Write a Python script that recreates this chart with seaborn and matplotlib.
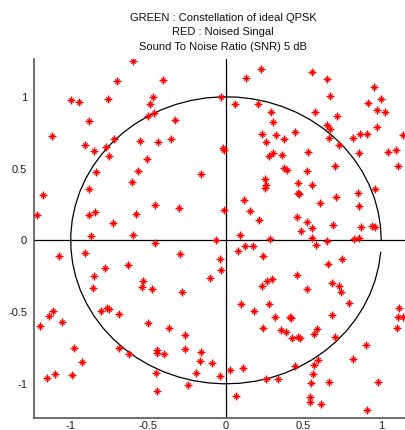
import numpy as np
import pandas as pd
import matplotlib
matplotlib.use("Agg")
import matplotlib.pyplot as plt
import seaborn as sns

title_lines = ["GREEN : Constellation of ideal QPSK",
               "RED : Noised Singal",
               "Sound To Noise Ratio (SNR) 5 dB"]

x_ticks = [-1, -0.5, 0, 0.5, 1]
x_tick_labels = ["-1", "-0.5", "0", "0.5", "1"]
y_ticks = [-1, -0.5, 0, 0.5, 1]
y_tick_labels = ["-1", "-0.5", "0", "0.5", "1"]

noisy_i = [
    -0.597, -0.700, -0.998, -0.947, -0.760, -0.468, -0.489, -0.880, -0.504, -0.462,
    -1.118, -0.721, -0.908, -0.771, -0.552, -0.435, -0.850, -0.755, -0.511, -0.837,
    -0.567, -0.404, -0.032, 0.060, 0.208, 0.290, 0.301, 0.225, 0.131, -0.326,
    -0.356, -0.021, -0.011, 0.234, 0.258, 0.324, 0.377, 0.305, 0.277, 0.363,
    0.373, -0.163, 0.554, 0.650, 0.670, 0.951, 1.000, 0.912, 0.575, 0.717,
    0.970, 1.024, 0.648, 0.670, 0.444, 0.663, 0.730, 0.816, 0.863, 0.906,
    0.972, 1.140, 0.526, 0.858, 1.043, 1.095, 0.395, 0.520, 0.702, 1.106,
    -0.607, -0.884, -1.178, -0.457, -1.219, -0.844, -0.880, -0.580, -0.728, -0.869,
    -0.597, -0.457, -1.073, -0.910, -0.781, -0.631, -0.850, -0.536, -0.543, -0.855,
    -0.475, 0.249, 0.256, 0.249, -0.303, -0.015, 0.114, 0.155, 0.211, -0.066,
    0.088, 0.281, 0.075, 0.122, 0.174, -0.296, -0.037, 0.236, -0.032, -0.105,
    0.266, 0.296, 0.234, -0.283, 0.466, 0.556, 0.466, 0.472, 0.605, 0.708,
    0.848, 0.961, 0.856, 0.459, 0.520, 0.481, 0.556, 0.691, 0.871, 0.938,
    0.959, 0.556, 0.578, 0.652, 0.822, 0.858, 0.747, 0.659, 0.459, 0.684,
    0.728, 0.520, -1.116, -1.140, -1.196, -1.058, -0.805, -0.764, -0.751, -0.689,
    -0.504, -0.977, -0.687, -0.627, -0.925, -0.442, -0.444, -1.151, -1.101, -0.990,
    -0.449, -0.446, 0.095, 0.178, 0.279, 0.314, 0.236, 0.354, -0.367, -0.262,
    -0.399, -0.264, -0.163, -0.169, -0.092, -0.195, -0.037, 0.026, 0.108, 0.260,
    0.335, -0.243, 0.062, 0.739, 0.792, 1.114, 1.109, 1.142, 1.103, 0.412,
    0.422, 0.684, 0.386, 0.423, 0.466, 0.477, 0.567, 0.584, 0.702, 0.902,
    0.820, 0.594, 0.567, 0.444, 0.562, 0.545, 0.663, 0.977, 0.541, 0.539,
    0.612, 0.910,
]
noisy_q = [
    1.252, 1.110, 0.980, 0.966, 0.985, 0.997, 0.948, 0.831, 0.864, 0.885,
    0.729, 0.704, 0.666, 0.652, 0.694, 0.685, 0.622, 0.587, 0.569, 0.473,
    0.486, 1.117, 0.999, 0.948, 0.948, 0.892, 0.827, 1.192, 1.129, 0.838,
    0.704, 0.643, 0.631, 0.741, 0.687, 0.734, 0.706, 0.610, 0.587, 0.594,
    0.504, 0.462, 1.173, 1.126, 1.008, 1.068, 0.985, 0.955, 0.896, 0.868,
    0.908, 0.892, 0.801, 0.778, 0.753, 0.715, 0.666, 0.715, 0.739, 0.743,
    0.790, 0.734, 0.617, 0.610, 0.617, 0.629, 0.490, 0.481, 0.520, 0.520,
    0.408, 0.355, 0.318, 0.246, 0.178, 0.197, 0.174, 0.183, 0.123, 0.028,
    0.035, -0.022, -0.109, -0.089, -0.195, -0.174, -0.251, -0.286, -0.323, -0.332,
    -0.339, 0.425, 0.385, 0.367, 0.227, 0.209, 0.283, 0.202, 0.144, 0.002,
    0.035, 0.011, -0.075, -0.042, -0.042, -0.098, -0.128, -0.109, -0.205, -0.261,
    -0.282, -0.272, -0.318, -0.357, 0.401, 0.385, 0.332, 0.321, 0.258, 0.300,
    0.332, 0.355, 0.239, 0.160, 0.130, 0.063, 0.086, 0.107, 0.093, 0.100,
    0.095, 0.014, -0.031, -0.005, 0.011, 0.018, -0.132, -0.165, -0.240, -0.300,
    -0.316, -0.337, -0.493, -0.528, -0.597, -0.571, -0.493, -0.470, -0.479, -0.512,
    -0.574, -0.748, -0.748, -0.794, -0.848, -0.765, -0.788, -0.958, -0.934, -0.941,
    -0.927, -1.050, -0.446, -0.493, -0.442, -0.532, -0.613, -0.627, -0.609, -0.660,
    -0.794, -0.760, -0.781, -0.839, -0.853, -0.923, -0.944, -0.904, -0.890, -0.965,
    -0.967, -1.008, -1.085, -0.358, -0.439, -0.474, -0.537, -0.537, -0.609, -0.532,
    -0.538, -0.521, -0.641, -0.679, -0.672, -0.683, -0.653, -0.620, -0.672, -0.730,
    -0.829, -0.832, -0.869, -0.876, -0.930, -0.997, -0.990, -0.990, -1.090, -1.129,
    -1.141, -1.183,
]

# unit reference circle, drawn MATLAB-style with 0.1 rad steps (not closed)
theta = np.arange(0, 2 * np.pi, 0.1)
circle_x = np.cos(theta)
circle_y = np.sin(theta)

sns.set_style("white")
plt.rcParams["font.family"] = ["Liberation Sans", "DejaVu Sans"]

W, H = 406, 430
fig = plt.figure(figsize=(W / 100, H / 100), dpi=100)

x_min, x_max = -1.236, 1.20
y_min, y_max = -1.238, 1.263
left_px, top_px, bottom_px = 34, 59, 418
right_px = left_px + (x_max - x_min) * 155.3
ax = fig.add_axes([left_px / W, (H - bottom_px) / H,
                   (right_px - left_px) / W, (bottom_px - top_px) / H])

ax.plot(circle_x, circle_y, color="black", lw=0.9, zorder=2)
ax.axhline(0, color="black", lw=0.9, zorder=2)
ax.axvline(0, color="black", lw=0.9, zorder=2)

df = pd.DataFrame({"I": noisy_i, "Q": noisy_q})
sns.scatterplot(data=df, x="I", y="Q", marker="+", color="red", s=28,
                linewidth=1.0, ax=ax, zorder=3)
sns.scatterplot(data=df, x="I", y="Q", marker="x", color="red", s=10,
                linewidth=0.9, ax=ax, zorder=3)

ax.set_xlim(x_min, x_max)
ax.set_ylim(y_min, y_max)
ax.set_xticks(x_ticks)
ax.set_xticklabels(x_tick_labels)
ax.set_yticks(y_ticks)
ax.set_yticklabels(y_tick_labels)
ax.set_xlabel("")
ax.set_ylabel("")
ax.tick_params(axis="both", direction="in", length=3, width=0.8,
               labelsize=8, colors="#222222")
ax.tick_params(axis="x", pad=2)
ax.tick_params(axis="y", pad=5)
for side in ["top", "right"]:
    ax.spines[side].set_visible(False)
for side in ["left", "bottom"]:
    ax.spines[side].set_color("#555555")
    ax.spines[side].set_linewidth(1.2)

title_y = [18, 32, 47]
for line, ypx in zip(title_lines, title_y):
    fig.text(223 / W, 1 - ypx / H, line, ha="center", va="center",
             fontsize=8, color="#111111")

fig.savefig("out.png", dpi=100)
